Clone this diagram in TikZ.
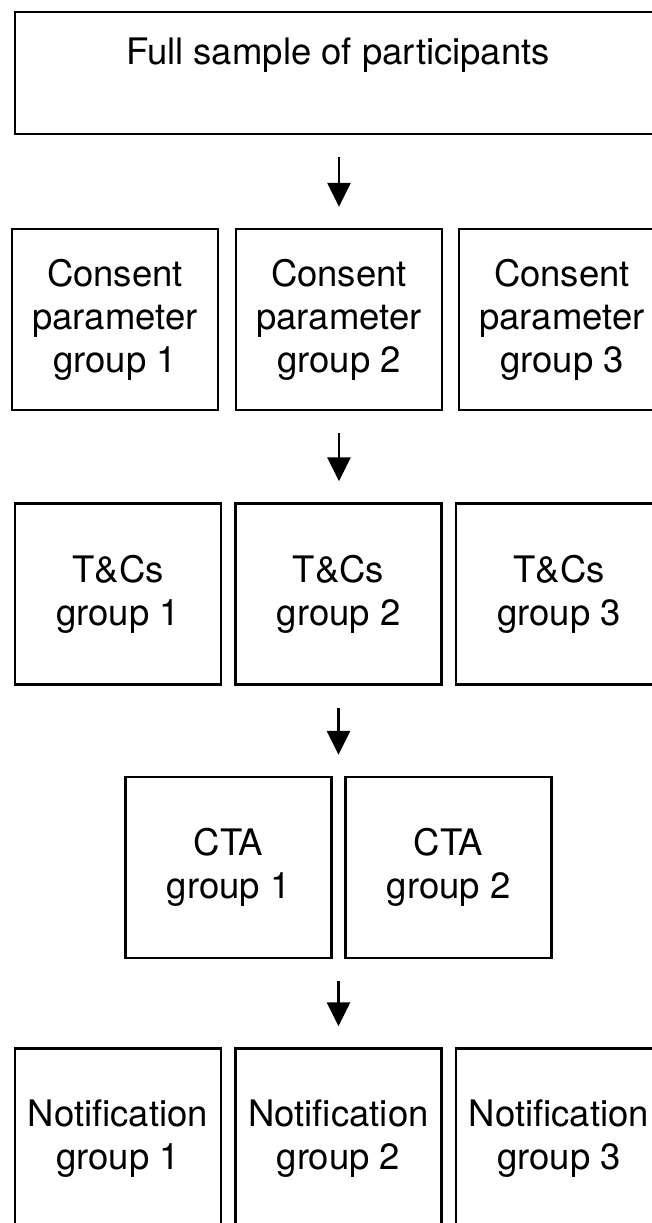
\documentclass[tikz,border=0pt]{standalone}
\usepackage{fontspec}
\setmainfont{TeX Gyre Heros}
\usetikzlibrary{arrows.meta}
\begin{document}
\begin{tikzpicture}[x=1pt,y=-1pt,
  gbox/.style={draw, line width=2.5pt, minimum width=206pt, minimum height=181pt,
    align=center, inner sep=0pt, font=\fontsize{36.5}{43}\selectfont},
  arr/.style={line width=2.8pt, -{Triangle[width=23pt,length=24pt]},
    shorten <=22pt, shorten >=21pt}]
\useasboundingbox (0,0) rectangle (652,1223);
\node[gbox, minimum width=646pt, minimum height=122pt] (top) at (338,73) {Full sample of participants\\[-12pt]\strut};
% row 2
\node[gbox] (c1) at (115,319.5) {Consent\\parameter\\group 1};
\node[gbox] (c2) at (339,319.5) {Consent\\parameter\\group 2};
\node[gbox] (c3) at (562,319.5) {Consent\\parameter\\group 3};
% row 3
\node[gbox] (t1) at (118,594) {T\&Cs\\group 1};
\node[gbox] (t2) at (338.5,594) {T\&Cs\\group 2};
\node[gbox] (t3) at (559,594) {T\&Cs\\group 3};
% row 4
\node[gbox] (k1) at (228.5,867.5) {CTA\\group 1};
\node[gbox] (k2) at (448.5,867.5) {CTA\\group 2};
% row 5
\node[gbox] (n1) at (118,1139) {Notification\\group 1};
\node[gbox] (n2) at (338.5,1139) {Notification\\group 2};
\node[gbox] (n3) at (559,1139) {Notification\\group 3};
% arrows
\draw[arr] (top.south -| c2.north) -- (c2.north);
\draw[arr] (c2.south) -- (c2.south |- t2.north);
\draw[arr] (t2.south) -- (t2.south |- k1.north);
\draw[arr] (k1.south -| n2.north) -- (n2.north);
\end{tikzpicture}
\end{document}
